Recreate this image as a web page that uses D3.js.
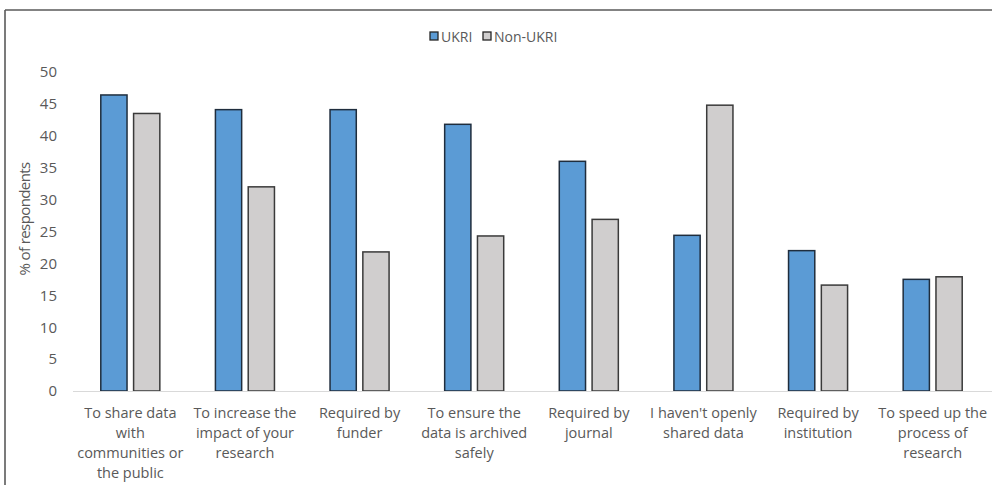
<!DOCTYPE html>
<html>
<head>
<meta charset="utf-8">
<script src="https://cdn.jsdelivr.net/npm/d3@7"></script>
<style>
  html, body { margin: 0; padding: 0; background: #fff; }
  svg { display: block; }
  text { font-family: "Open Sans", "Liberation Sans", sans-serif; fill: #595959; }
</style>
</head>
<body>
<svg id="chart" width="992" height="485"></svg>
<script>
const categories = [
  "To share data\nwith\ncommunities or\nthe public",
  "To increase the\nimpact of your\nresearch",
  "Required by\nfunder",
  "To ensure the\ndata is archived\nsafely",
  "Required by\njournal",
  "I haven't openly\nshared data",
  "Required by\ninstitution",
  "To speed up the\nprocess of\nresearch"
];
const seriesNames = ["UKRI", "Non-UKRI"];
const ukriValues = [46.4, 44.1, 44.1, 41.8, 36.0, 24.4, 22.0, 17.5];
const nonUkriValues = [43.5, 32.0, 21.8, 24.3, 26.9, 44.8, 16.6, 17.9];
const yTicks = [0, 5, 10, 15, 20, 25, 30, 35, 40, 45, 50];
const colors = ["#5b9bd5", "#d0cece"];
const yTitle = "% of respondents";

const svg = d3.select("#chart");
const W = 992, H = 485;
const plot = { left: 73, right: 990, top: 72, bottom: 391 };

// frame (top and left edges visible)
svg.append("line").attr("x1", 5).attr("x2", W).attr("y1", 10).attr("y2", 10)
  .attr("stroke", "#5a5a5a").attr("stroke-width", 1.6);
svg.append("line").attr("x1", 5).attr("x2", 5).attr("y1", 10).attr("y2", H)
  .attr("stroke", "#5a5a5a").attr("stroke-width", 1.6);

const y = d3.scaleLinear().domain([0, 50]).range([plot.bottom, plot.top]);
const x0 = d3.scaleBand().domain(categories).range([plot.left, plot.right])
  .paddingInner(0.485).paddingOuter(0.2425);
const x1 = d3.scaleBand().domain(seriesNames).range([0, x0.bandwidth()]).paddingInner(0.2);

// y axis labels
const yAxis = d3.axisLeft(y).tickValues(yTicks).tickSize(0).tickPadding(0);
const gy = svg.append("g").attr("transform", `translate(57,0)`).call(yAxis);
gy.select(".domain").remove();
gy.selectAll("text").style("font-size", "15px").attr("fill", "#595959")
  .style("font-family", "'Open Sans', sans-serif");

// bars
const data = categories.map((c, i) => ({ cat: c, vals: [ukriValues[i], nonUkriValues[i]] }));
const groups = svg.append("g").selectAll("g").data(data).join("g")
  .attr("transform", d => `translate(${x0(d.cat)},0)`);
groups.selectAll("rect").data(d => d.vals.map((v, j) => ({ name: seriesNames[j], v, j })))
  .join("rect")
  .attr("x", d => x1(d.name))
  .attr("y", d => y(d.v))
  .attr("width", x1.bandwidth())
  .attr("height", d => y(0) - y(d.v))
  .attr("fill", d => colors[d.j])
  .attr("stroke", d => d.j === 0 ? "#1f2d3d" : "#3a3a3a")
  .attr("stroke-width", 1.5);

// x axis line
svg.append("line").attr("x1", plot.left).attr("x2", W).attr("y1", plot.bottom + 0.5).attr("y2", plot.bottom + 0.5)
  .attr("stroke", "#d9d9d9").attr("stroke-width", 1.2);

// x axis labels
const xAxis = d3.axisBottom(x0).tickSize(0).tickFormat("");
const gx = svg.append("g").attr("transform", `translate(0,${plot.bottom})`).call(xAxis);
gx.select(".domain").remove();
gx.selectAll(".tick").each(function(d) {
  const lines = d.split("\n");
  const t = d3.select(this).append("text")
    .attr("text-anchor", "middle")
    .style("font-size", "14.5px")
    .attr("fill", "#595959");
  lines.forEach((ln, k) => {
    t.append("tspan").attr("x", 0).attr("y", 27 + k * 20).text(ln);
  });
});

// y title
svg.append("text")
  .attr("transform", "translate(30,219) rotate(-90)")
  .attr("text-anchor", "middle")
  .style("font-size", "15px")
  .style("letter-spacing", "-0.6px")
  .text(yTitle);

// legend
const legend = svg.append("g");
const legendX = [430, 483];
seriesNames.forEach((n, j) => {
  const g = legend.append("g").attr("transform", `translate(${legendX[j]},32)`);
  g.append("rect").attr("x", 0).attr("y", 0).attr("width", 8).attr("height", 8)
    .attr("fill", colors[j]).attr("stroke", "#262626").attr("stroke-width", 1.3);
  g.append("text").attr("x", 11).attr("y", 9.5).style("font-size", "14px").text(n);
});
</script>
</body>
</html>
